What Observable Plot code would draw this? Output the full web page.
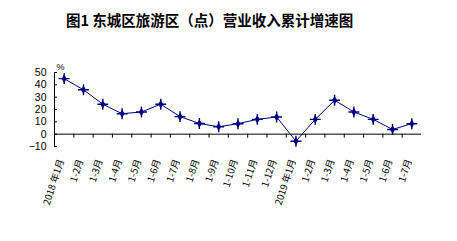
<!DOCTYPE html>
<html><head><meta charset="utf-8">
<script src="https://cdn.jsdelivr.net/npm/d3@7"></script>
<script src="https://cdn.jsdelivr.net/npm/@observablehq/plot@0.6"></script>
<style>
body{margin:0;background:#fff;width:457px;height:241px;overflow:hidden;}
#title{height:36px;box-sizing:border-box;padding-top:9px;padding-left:66px;line-height:20px;font:bold 14.5px "Noto Sans CJK SC",sans-serif;color:#000;white-space:nowrap;}
</style></head>
<body>
<div id="title">图1 东城区旅游区（点）营业收入累计增速图</div>
<div id="chart"></div>
<script>
const months = ["2018 年1月","1-2月","1-3月","1-4月","1-5月","1-6月","1-7月","1-8月","1-9月","1-10月","1-11月","1-12月","2019 年1月","1-2月","1-3月","1-4月","1-5月","1-6月","1-7月"];
const growth = [45, 36, 24.3, 16.6, 18, 24.3, 14.2, 8.7, 6, 8.5, 12, 13.9, -5.7, 12, 27.5, 18, 12, 3.8, 8.5];
const yTicks = [-10, 0, 10, 20, 30, 40, 50];

const data = months.map((m, i) => ({i, m, v: growth[i]}));
const bounds = d3.range(0.5, months.length - 1, 1);
const navy = "#000080";
const x0 = -0.5;

const chart = Plot.plot({
  width: 457,
  height: 205,
  marginTop: 36,
  marginBottom: 95,
  marginLeft: 54,
  marginRight: 36,
  style: {fontFamily: "'Liberation Sans', Arial, sans-serif", background: "#fff"},
  x: {type: "linear", domain: [-0.5, months.length - 0.5], axis: null},
  y: {type: "linear", domain: [-10, 50], axis: null},
  marks: [
    Plot.ruleY([0], {stroke: "#000", strokeWidth: 1}),
    Plot.ruleX([x0], {x: d => d, y1: () => -10, y2: () => 50, stroke: "#000"}),
    Plot.ruleY(yTicks, {y: d => d, x1: () => x0, x2: () => x0, insetRight: -3, stroke: "#000"}),
    Plot.ruleX(bounds, {x: d => d, y1: () => 0, y2: () => 0, insetBottom: -4, stroke: "#000"}),
    Plot.text(yTicks, {y: d => d, frameAnchor: "left", dx: -8, textAnchor: "end", text: d => d < 0 ? "\u2212" + Math.abs(d) : String(d), fontSize: 10.5, fill: "#000"}),
    Plot.text(["%"], {frameAnchor: "top-left", dx: 2, dy: -9, text: d => d, fontSize: 9, fill: "#000"}),
    Plot.line(data, {x: "i", y: "v", stroke: navy, strokeWidth: 1}),
    Plot.dot(data, {x: "i", y: "v", symbol: "diamond", r: 2.6, fill: navy, stroke: "none"}),
    Plot.dot(data, {x: "i", y: "v", symbol: "plus", r: 3.6, stroke: navy, strokeWidth: 1.4}),
    Plot.text(data, {x: "i", frameAnchor: "bottom", dy: 14, text: "m", rotate: -72, textAnchor: "end", fontSize: 9.5, fill: "#000", fontFamily: "'Noto Sans CJK SC', sans-serif"})
  ]
});
document.getElementById("chart").appendChild(chart);
</script>
</body></html>
